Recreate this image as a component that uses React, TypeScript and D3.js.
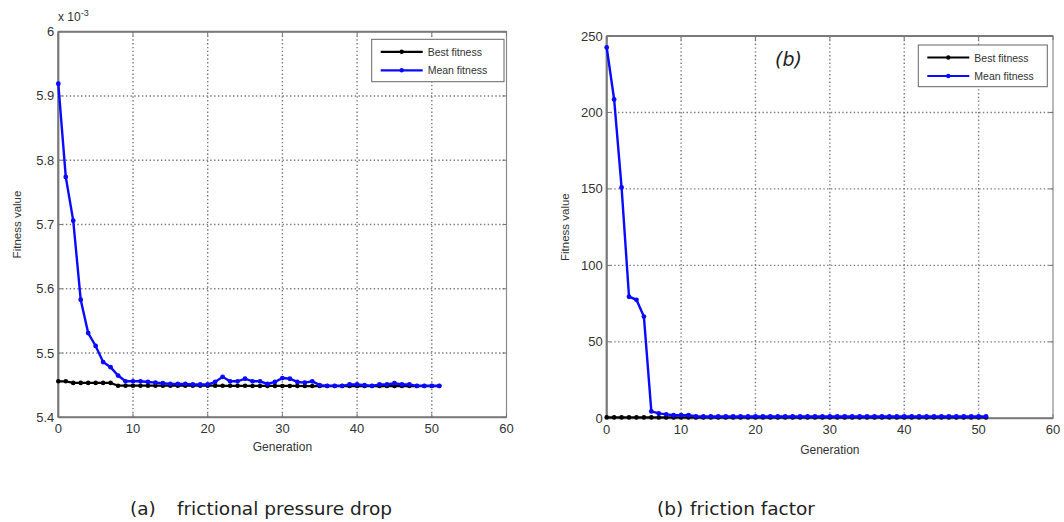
import React from "react";
import * as d3 from "d3";

const generations = d3.range(0, 52);

const leftMean = [
  5.919, 5.774, 5.706, 5.583, 5.531, 5.511, 5.486, 5.478, 5.465, 5.456,
  5.456, 5.456, 5.455, 5.454, 5.453, 5.452, 5.452, 5.452, 5.451, 5.451,
  5.451, 5.455, 5.463, 5.456, 5.456, 5.460, 5.456, 5.456, 5.452, 5.455,
  5.461, 5.460, 5.455, 5.454, 5.456, 5.450, 5.449, 5.449, 5.449, 5.451,
  5.451, 5.450, 5.449, 5.451, 5.451, 5.453, 5.451, 5.451, 5.449, 5.449,
  5.449, 5.449,
];
const leftBest = [
  5.456, 5.456, 5.4535, 5.4535, 5.4535, 5.4535, 5.4535, 5.4535, 5.4492, 5.4492,
  5.4492, 5.4492, 5.4492, 5.4492, 5.4492, 5.4492, 5.4492, 5.4492, 5.4492, 5.4492,
  5.4492, 5.4492, 5.4490, 5.4490, 5.4490, 5.4490, 5.4488, 5.4488, 5.4488, 5.4488,
  5.4488, 5.4488, 5.4488, 5.4486, 5.4486, 5.4486, 5.4486, 5.4486, 5.4486, 5.4486,
  5.4486, 5.4486, 5.4486, 5.4486, 5.4486, 5.4486, 5.4486, 5.4486, 5.4486, 5.4486,
  5.4486, 5.4486,
];
const rightMean = [
  242.5, 208.5, 151, 79.5, 77.5, 66.5, 4.5, 3.2, 2.6, 2.0,
  2.0, 2.0, 1.3, 1.2, 1.2, 1.2, 1.2, 1.2, 1.2, 1.2,
  1.2, 1.2, 1.2, 1.2, 1.2, 1.2, 1.2, 1.2, 1.2, 1.2,
  1.2, 1.2, 1.2, 1.2, 1.2, 1.2, 1.2, 1.2, 1.2, 1.2,
  1.2, 1.2, 1.2, 1.2, 1.2, 1.2, 1.2, 1.2, 1.2, 1.2,
  1.2, 1.2,
];
const rightBest = generations.map(() => 0.6);

const xTicks = [0, 10, 20, 30, 40, 50, 60];
const leftYTicks = [5.4, 5.5, 5.6, 5.7, 5.8, 5.9, 6];
const rightYTicks = [0, 50, 100, 150, 200, 250];
const legendLabels = ["Best fitness", "Mean fitness"];
const captionTags = ["(a)", "(b)"];
const captionTexts = ["frictional pressure drop", "friction factor"];

const BLUE = "#0a0aff";
const AXIS_FONT = "'Liberation Sans', Arial, sans-serif";
const CAP_FONT = "'DejaVu Sans', sans-serif";

type PanelProps = {
  x0: number; x1: number; y0: number; y1: number;
  yDomain: [number, number];
  yTicks: number[];
  fmt: (v: number) => string;
  mean: number[];
  best: number[];
  legend: { x: number; y: number; w: number; h: number };
  yLabelX: number;
  xLabelY: number;
};

function Panel(p: PanelProps) {
  const x = d3.scaleLinear().domain([0, 60]).range([p.x0, p.x1]);
  const y = d3.scaleLinear().domain(p.yDomain).range([p.y1, p.y0]);
  const line = d3.line<number>().x((_, i) => x(generations[i])).y((d) => y(d));
  const lg = p.legend;
  return (
    <g>
      {xTicks.slice(1, -1).map((t) => (
        <line key={"gx" + t} x1={x(t)} x2={x(t)} y1={p.y0} y2={p.y1} stroke="#7a7a7a" strokeWidth={1.4} strokeDasharray="1.4,2.4" />
      ))}
      {p.yTicks.slice(1, -1).map((t) => (
        <line key={"gy" + t} x1={p.x0} x2={p.x1} y1={y(t)} y2={y(t)} stroke="#7a7a7a" strokeWidth={1.4} strokeDasharray="1.4,2.4" />
      ))}
      <rect x={p.x0} y={p.y0} width={p.x1 - p.x0} height={p.y1 - p.y0} fill="none" stroke="#8a8a8a" strokeWidth={1.2} />
      <line x1={p.x0} x2={p.x0} y1={p.y0} y2={p.y1} stroke="#7a7a7a" strokeWidth={2.2} />
      <line x1={p.x0} x2={p.x1} y1={p.y1} y2={p.y1} stroke="#7a7a7a" strokeWidth={2} />
      <line x1={p.x0} x2={p.x1} y1={p.y0} y2={p.y0} stroke="#7a7a7a" strokeWidth={2} />
      {xTicks.map((t) => (
        <g key={"xt" + t}>
          <line x1={x(t)} x2={x(t)} y1={p.y1} y2={p.y1 - 4} stroke="#777" />
          <line x1={x(t)} x2={x(t)} y1={p.y0} y2={p.y0 + 4} stroke="#777" />
          <text x={x(t)} y={p.y1 + 16} textAnchor="middle" fontSize={13} fill="#333" fontFamily={AXIS_FONT}>{t}</text>
        </g>
      ))}
      {p.yTicks.map((t) => (
        <g key={"yt" + t}>
          <line x1={p.x0} x2={p.x0 + 4} y1={y(t)} y2={y(t)} stroke="#777" />
          <line x1={p.x1} x2={p.x1 - 4} y1={y(t)} y2={y(t)} stroke="#777" />
          <text x={p.x0 - 4} y={y(t) + 4.5} textAnchor="end" fontSize={13} fill="#333" fontFamily={AXIS_FONT}>{p.fmt(t)}</text>
        </g>
      ))}
      <path d={line(p.best) || ""} fill="none" stroke="#000" strokeWidth={2.2} />
      {p.best.map((v, i) => (
        <circle key={"b" + i} cx={x(generations[i])} cy={y(v)} r={2.3} fill="#000" />
      ))}
      <path d={line(p.mean) || ""} fill="none" stroke={BLUE} strokeWidth={2.4} />
      {p.mean.map((v, i) => (
        <circle key={"m" + i} cx={x(generations[i])} cy={y(v)} r={2.4} fill={BLUE} />
      ))}
      <text x={(p.x0 + p.x1) / 2} y={p.xLabelY} textAnchor="middle" fontSize={12} fill="#333" fontFamily={AXIS_FONT}>Generation</text>
      <text transform={`translate(${p.yLabelX},${(p.y0 + p.y1) / 2}) rotate(-90)`} textAnchor="middle" fontSize={11.5} fill="#333" fontFamily={AXIS_FONT}>Fitness value</text>
      <rect x={lg.x} y={lg.y} width={lg.w} height={lg.h} fill="#fff" stroke="#666" strokeWidth={1} />
      {legendLabels.map((lab, i) => {
        const ly = lg.y + 12.5 + i * 18.5;
        const col = i === 0 ? "#000" : BLUE;
        return (
          <g key={lab}>
            <line x1={lg.x + 9} x2={lg.x + 51} y1={ly} y2={ly} stroke={col} strokeWidth={2.2} />
            <circle cx={lg.x + 30} cy={ly} r={2.2} fill={col} />
            <text x={lg.x + 56} y={ly + 4} fontSize={10.5} fill="#333" fontFamily={AXIS_FONT}>{lab}</text>
          </g>
        );
      })}
    </g>
  );
}

export default function App() {
  return (
    <svg width={1064} height={522} style={{ position: "absolute", left: 0, top: 0, background: "#fff" }}>
      <rect width={1064} height={522} fill="#fff" />
      <Panel
        x0={58.3} x1={506.5} y0={31.7} y1={417.3}
        yDomain={[5.4, 6]} yTicks={leftYTicks}
        fmt={(v) => (v === 6 ? "6" : v.toFixed(1))}
        mean={leftMean} best={leftBest}
        legend={{ x: 371.7, y: 39.3, w: 132.3, h: 42.4 }}
        yLabelX={21} xLabelY={451}
      />
      <text x={58} y={21} fontSize={12} fill="#333" fontFamily={AXIS_FONT}>x 10<tspan dy={-5} fontSize={9}>-3</tspan></text>
      <Panel
        x0={606.7} x1={1053} y0={36} y1={418.3}
        yDomain={[0, 250]} yTicks={rightYTicks}
        fmt={(v) => String(v)}
        mean={rightMean} best={rightBest}
        legend={{ x: 918.3, y: 45, w: 129, h: 41.7 }}
        yLabelX={569} xLabelY={454}
      />
      <text x={775} y={66} fontSize={19} fontStyle="italic" fill="#222" fontFamily={CAP_FONT}>(b)</text>
      <text x={130} y={515} fontSize={18.5} fill="#222" fontFamily={CAP_FONT}>{captionTags[0]}</text>
      <text x={177} y={515} fontSize={18.5} fill="#222" fontFamily={CAP_FONT}>{captionTexts[0]}</text>
      <text x={657} y={515} fontSize={18.5} fill="#222" fontFamily={CAP_FONT}>{captionTags[1]}</text>
      <text x={690} y={515} fontSize={18.5} fill="#222" fontFamily={CAP_FONT}>{captionTexts[1]}</text>
    </svg>
  );
}
